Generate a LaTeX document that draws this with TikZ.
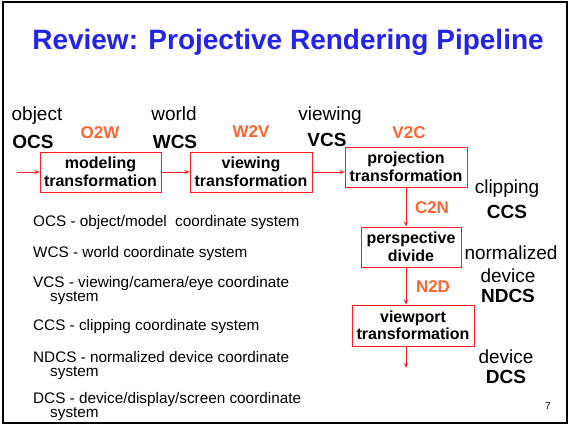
\documentclass[tikz,border=0pt]{standalone}
\usepackage{fontspec}
\setmainfont{Liberation Sans}
\usetikzlibrary{arrows.meta}
\definecolor{ttlblue}{RGB}{35,35,235}
\definecolor{lblorange}{RGB}{255,102,51}
\definecolor{boxred}{RGB}{255,30,30}
\begin{document}
\begin{tikzpicture}[x=1pt,y=-1pt,
  stagebox/.style={draw=boxred, line width=1pt, font=\fontsize{16}{17.5}\selectfont\bfseries, align=center, inner sep=0pt},
  flow/.style={draw=boxred, line width=0.8pt, -{Stealth[length=5pt,width=4pt]}},
  spacelbl/.style={font=\fontsize{19}{22}\selectfont, anchor=base, inner sep=0pt},
  spacebold/.style={font=\fontsize{19}{22}\selectfont\bfseries, anchor=base, inner sep=0pt},
  xform/.style={font=\fontsize{17}{20}\selectfont\bfseries, text=lblorange, anchor=base, inner sep=0pt},
  legend/.style={font=\fontsize{15.3}{15.3}\selectfont, anchor=base west, inner sep=0pt},
]
\useasboundingbox (0,0) rectangle (573,428);
\draw[line width=2pt] (3,2) rectangle (567,423);

\node[font=\fontsize{28}{30}\selectfont\bfseries, text=ttlblue, anchor=base, inner sep=0pt] (title) at (288,50) {Review: Projective Rendering Pipeline};

% stage boxes
\node[stagebox, minimum width=121pt, minimum height=40pt] (model) at (100.5,172) {modeling\\transformation};
\node[stagebox, minimum width=122pt, minimum height=40pt] (view) at (251,172) {viewing\\transformation};
\node[stagebox, minimum width=122pt, minimum height=40pt] (proj) at (406,167) {projection\\transformation};
\node[stagebox, minimum width=100pt, minimum height=40pt] (persp) at (411,247) {perspective\\divide};
\node[stagebox, minimum width=122pt, minimum height=41pt] (vport) at (413,325.5) {viewport\\transformation};

% connectors
\coordinate (in) at (17,172);
\coordinate (out) at (406,368);
\draw[flow] (in) -- (model.west);
\draw[flow] (model.east) -- (view.west);
\draw[flow] (view.east) -- (view.east -| proj.west);
\draw[flow] (proj.south) -- (proj.south |- persp.north);
\draw[flow] (proj.south |- persp.south) -- (proj.south |- vport.north);
\draw[flow] (proj.south |- vport.south) -- (out);

% space labels
\node[spacelbl] (objl) at (37,121) {object};
\node[spacebold] (ocs) at (33,148) {OCS};
\node[xform] (o2w) at (100,138) {O2W};
\node[spacelbl] (worldl) at (174,121) {world};
\node[spacebold] (wcs) at (175,148) {WCS};
\node[xform] (w2v) at (251,137) {W2V};
\node[spacelbl] (viewl) at (330,121) {viewing};
\node[spacebold] (vcs) at (327,146) {VCS};
\node[xform] (v2c) at (409,138) {V2C};
\node[spacelbl] (clipl) at (507,193) {clipping};
\node[spacebold] (ccs) at (507,218) {CCS};
\node[xform] (c2n) at (432,213) {C2N};
\node[spacelbl] (norml) at (511,259) {normalized};
\node[spacelbl] (devl) at (508,282) {device};
\node[spacebold] (ndcs) at (508,302) {NDCS};
\node[xform] (n2d) at (433,292) {N2D};
\node[spacelbl] (dev2l) at (506,363) {device};
\node[spacebold] (dcs) at (506,383) {DCS};

% legend
\node[legend] (lg1) at (33,226) {OCS - object/model\ \ coordinate system};
\node[legend] (lg2) at (33,257) {WCS - world coordinate system};
\node[legend] (lg3) at (33,287) {VCS - viewing/camera/eye coordinate};
\node[legend] (lg3b) at (50,301) {system};
\node[legend] (lg4) at (33,330) {CCS - clipping coordinate system};
\node[legend] (lg5) at (33,362) {NDCS - normalized device coordinate};
\node[legend] (lg5b) at (50,376) {system};
\node[legend] (lg6) at (33,403.5) {DCS - device/display/screen coordinate};
\node[legend] (lg6b) at (50,417.5) {system};

\node[font=\fontsize{10}{12}\selectfont, anchor=base, inner sep=0pt] (pg) at (548,409) {7};
\end{tikzpicture}
\end{document}
